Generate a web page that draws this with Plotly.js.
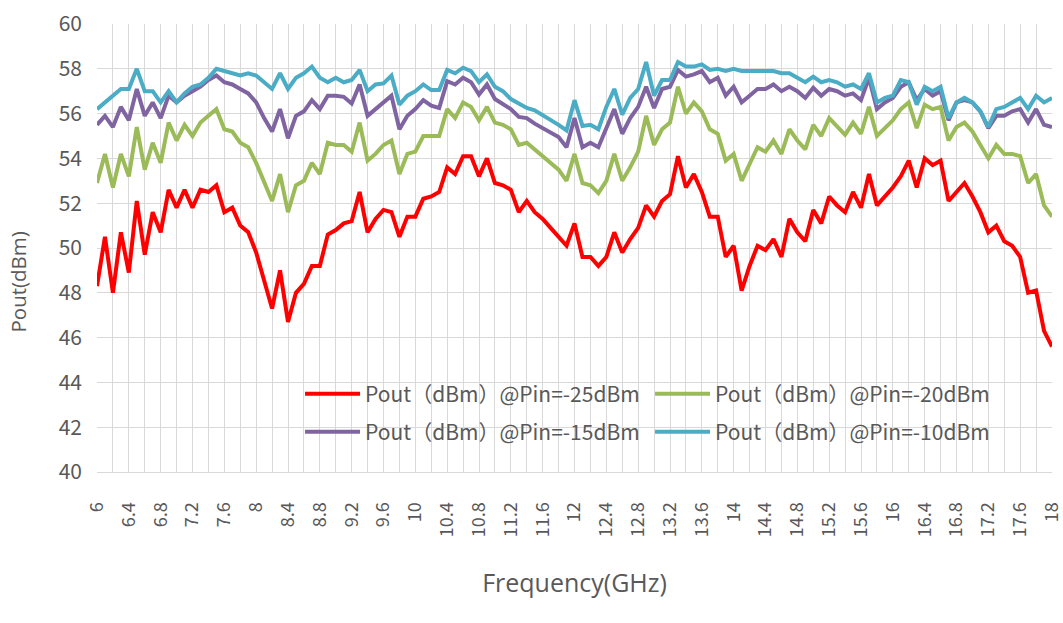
<!DOCTYPE html>
<html>
<head>
<meta charset="utf-8">
<script src="https://cdn.plot.ly/plotly-3.0.1.min.js"></script>
<style>html,body{margin:0;padding:0;background:#fff;}#chart{width:1063px;height:623px;}</style>
</head>
<body>
<div id="chart"></div>
<script>
// Frequency points (GHz), 6.0 to 18.0 in 0.1 steps
const freqGHz = [6.0,6.1,6.2,6.3,6.4,6.5,6.6,6.7,6.8,6.9,7.0,7.1,7.2,7.3,7.4,7.5,7.6,7.7,7.8,7.9,8.0,8.1,8.2,8.3,8.4,8.5,8.6,8.7,8.8,8.9,
9.0,9.1,9.2,9.3,9.4,9.5,9.6,9.7,9.8,9.9,10.0,10.1,10.2,10.3,10.4,10.5,10.6,10.7,10.8,10.9,11.0,11.1,11.2,11.3,11.4,11.5,11.6,11.7,11.8,11.9,
12.0,12.1,12.2,12.3,12.4,12.5,12.6,12.7,12.8,12.9,13.0,13.1,13.2,13.3,13.4,13.5,13.6,13.7,13.8,13.9,14.0,14.1,14.2,14.3,14.4,14.5,14.6,14.7,14.8,14.9,
15.0,15.1,15.2,15.3,15.4,15.5,15.6,15.7,15.8,15.9,16.0,16.1,16.2,16.3,16.4,16.5,16.6,16.7,16.8,16.9,17.0,17.1,17.2,17.3,17.4,17.5,17.6,17.7,17.8,17.9,18.0];

const seriesNames = ['Pout（dBm）@Pin=-25dBm','Pout（dBm）@Pin=-20dBm','Pout（dBm）@Pin=-15dBm','Pout（dBm）@Pin=-10dBm'];

const poutPin25 = [48.3,50.5,48.0,50.7,48.9,52.1,49.7,51.6,50.7,52.6,51.8,52.6,51.8,52.6,52.5,52.8,51.6,51.8,51.0,50.7,49.8,48.6,47.3,49.0,46.7,48.0,48.4,49.2,49.2,50.6,
50.8,51.1,51.2,52.5,50.7,51.3,51.7,51.6,50.5,51.4,51.4,52.2,52.3,52.5,53.6,53.3,54.1,54.1,53.2,54.0,52.9,52.8,52.6,51.6,52.1,51.6,51.3,50.9,50.5,50.1,
51.1,49.6,49.6,49.2,49.6,50.7,49.8,50.4,50.9,51.9,51.4,52.1,52.4,54.1,52.7,53.3,52.5,51.4,51.4,49.6,50.1,48.1,49.2,50.1,49.9,50.4,49.6,51.3,50.7,50.3,
51.7,51.1,52.3,51.9,51.6,52.5,51.8,53.3,51.9,52.3,52.7,53.2,53.9,52.7,54.0,53.7,53.9,52.1,52.5,52.9,52.3,51.6,50.7,51.0,50.3,50.1,49.6,48.0,48.1,46.3,45.6];

const poutPin20 = [52.9,54.2,52.7,54.2,53.2,55.4,53.5,54.7,53.8,55.6,54.8,55.5,55.0,55.6,55.9,56.2,55.3,55.2,54.7,54.5,53.8,52.9,52.1,53.3,51.6,52.8,53.0,53.8,53.3,54.7,
54.6,54.6,54.3,55.6,53.9,54.2,54.6,54.8,53.3,54.2,54.3,55.0,55.0,55.0,56.2,55.8,56.5,56.3,55.7,56.3,55.6,55.5,55.3,54.6,54.7,54.4,54.1,53.8,53.5,53.0,
54.2,52.9,52.8,52.45,53.0,54.2,53.0,53.6,54.3,55.9,54.6,55.3,55.6,57.2,56.0,56.5,56.1,55.3,55.1,53.9,54.2,53.0,53.8,54.5,54.3,54.8,54.2,55.3,54.8,54.4,
55.5,55.0,55.8,55.4,55.05,55.6,55.1,56.3,55.0,55.35,55.7,56.2,56.5,55.35,56.4,56.2,56.3,54.8,55.4,55.6,55.2,54.6,54.0,54.6,54.2,54.2,54.1,52.9,53.3,51.9,51.4];

const poutPin15 = [55.5,55.9,55.4,56.3,55.7,57.1,55.9,56.5,55.8,56.8,56.5,56.8,57.0,57.2,57.5,57.7,57.4,57.3,57.1,56.9,56.5,55.8,55.2,56.2,54.9,55.9,56.1,56.6,56.2,56.8,
56.8,56.75,56.45,57.3,55.9,56.2,56.5,56.8,55.3,55.9,56.2,56.6,56.35,56.25,57.45,57.3,57.6,57.4,56.85,57.3,56.65,56.45,56.2,55.85,55.8,55.55,55.35,55.15,54.95,54.5,
55.8,54.5,54.7,54.5,55.35,56.2,55.1,55.8,56.3,57.2,56.25,57.1,57.2,57.95,57.65,57.75,57.9,57.4,57.6,56.8,57.2,56.5,56.8,57.1,57.1,57.3,57.0,57.2,57.0,56.7,
57.15,56.8,57.1,57.0,56.8,56.9,56.6,57.6,56.2,56.5,56.7,57.2,57.4,56.6,57.1,56.8,57.0,55.7,56.5,56.6,56.5,56.1,55.35,55.9,55.9,56.1,56.2,55.6,56.2,55.5,55.4];

const poutPin10 = [56.2,56.5,56.8,57.1,57.1,58.0,57.0,57.0,56.5,57.0,56.5,56.9,57.2,57.3,57.6,58.0,57.9,57.8,57.7,57.8,57.7,57.4,57.1,57.8,57.1,57.6,57.8,58.1,57.6,57.4,
57.6,57.4,57.5,57.95,57.0,57.3,57.35,57.7,56.4,56.8,57.0,57.3,57.05,57.05,57.95,57.8,58.05,57.9,57.4,57.75,57.2,57.0,56.65,56.45,56.25,56.15,55.95,55.7,55.5,55.25,
56.6,55.45,55.5,55.3,56.3,57.1,55.95,56.7,57.1,58.3,56.8,57.5,57.5,58.3,58.1,58.1,58.2,57.95,58.0,57.9,58.0,57.9,57.9,57.9,57.9,57.9,57.8,57.8,57.6,57.4,
57.65,57.4,57.5,57.4,57.2,57.3,57.1,57.8,56.5,56.7,56.8,57.5,57.4,56.4,57.2,57.0,57.2,55.8,56.5,56.7,56.5,56.1,55.4,56.2,56.3,56.5,56.7,56.2,56.8,56.5,56.7];

const seriesColors = ['#FF0000','#9BBB59','#8064A2','#4BACC6'];
const seriesValues = [poutPin25, poutPin20, poutPin15, poutPin10];
const seriesLegend = ['legend','legend','legend2','legend2'];

const traces = seriesValues.map((vals, i) => ({
  type: 'scatter',
  mode: 'lines',
  x: freqGHz,
  y: vals,
  name: seriesNames[i],
  legend: seriesLegend[i],
  line: {color: seriesColors[i], width: 4, shape: 'linear'},
  hoverinfo: 'x+y+name'
}));

const gridCol = '#d9d9d9';
const txtCol = '#595959';
const cjk = '"Noto Sans CJK SC", "Noto Sans", sans-serif';
const latin = '"Open Sans", sans-serif';

function legendBox(yPos) {
  return {
    orientation: 'h',
    x: 0.2126,
    xanchor: 'left',
    y: yPos,
    yanchor: 'middle',
    bgcolor: 'rgba(0,0,0,0)',
    borderwidth: 0,
    entrywidth: 280,
    entrywidthmode: 'pixels',
    itemwidth: 55,
    font: {family: cjk, size: 21, color: txtCol}
  };
}

const layout = {
  width: 1063,
  height: 623,
  margin: {l: 97, r: 11, t: 24, b: 151},
  paper_bgcolor: '#ffffff',
  plot_bgcolor: '#ffffff',
  showlegend: true,
  xaxis: {
    range: [6, 18],
    tick0: 6,
    dtick: 0.4,
    tickangle: -90,
    ticks: '',
    ticklabelstandoff: 22,
    showgrid: true,
    gridcolor: gridCol,
    gridwidth: 1,
    minor: {dtick: 0.2, showgrid: true, gridcolor: gridCol, gridwidth: 1},
    showline: true,
    linecolor: gridCol,
    linewidth: 1,
    zeroline: false,
    tickfont: {family: cjk, size: 18, color: txtCol},
    title: {text: 'Frequency(GHz)', font: {family: latin, size: 25, color: txtCol}, standoff: 38}
  },
  yaxis: {
    range: [40, 60],
    dtick: 2,
    ticks: '',
    ticklabelstandoff: 14,
    showgrid: true,
    gridcolor: gridCol,
    gridwidth: 1,
    showline: false,
    zeroline: false,
    tickfont: {family: cjk, size: 21, color: txtCol}
  },
  legend: legendBox(0.174),
  legend2: legendBox(0.0893),
  annotations: [{
    text: 'Pout(dBm)',
    xref: 'paper', yref: 'paper',
    x: -0.0827, y: 0.423,
    xanchor: 'center', yanchor: 'middle',
    textangle: -90,
    showarrow: false,
    font: {family: latin, size: 20.5, color: txtCol}
  }]
};

Plotly.newPlot('chart', traces, layout, {displayModeBar: false, responsive: false});
</script>
</body>
</html>
